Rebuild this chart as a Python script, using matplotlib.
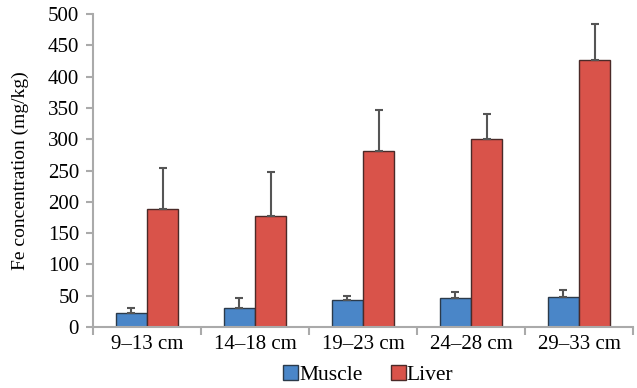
import matplotlib
matplotlib.use("Agg")
import matplotlib.pyplot as plt
import numpy as np

categories = ["9–13 cm", "14–18 cm", "19–23 cm", "24–28 cm", "29–33 cm"]
muscle = [23, 31, 44, 46, 48]
muscle_err = [7, 15, 6, 10, 11]
liver = [188, 178, 281, 301, 426]
liver_err = [66, 70, 66, 39, 58]
yticks = [0, 50, 100, 150, 200, 250, 300, 350, 400, 450, 500]

plt.rcParams['font.family'] = ['Liberation Serif', 'DejaVu Serif']

fig = plt.figure(figsize=(6.37, 3.88), dpi=100)
ax = fig.add_axes([0.146, 0.157, 0.848, 0.807])

x = np.arange(len(categories))
w = 0.29
ekw = dict(ecolor='#555555', elinewidth=1.5, capsize=3, capthick=1.5)
ax.bar(x - w/2, muscle, w, color='#4a86c8', edgecolor='#2b3a4a', linewidth=1.0,
       yerr=[np.zeros(len(muscle)), muscle_err], error_kw=ekw, label='Muscle')
ax.bar(x + w/2, liver, w, color='#d9534a', edgecolor='#4a2a28', linewidth=1.0,
       yerr=[np.zeros(len(liver)), liver_err], error_kw=ekw, label='Liver')

ax.set_xlim(-0.5, len(categories) - 0.5)
ax.set_ylim(0, 500)
ax.set_yticks(yticks)
ax.set_xticks(x)
ax.set_xticklabels(categories)
ax.set_xticks(np.arange(len(categories) + 1) - 0.5, minor=True)
ax.tick_params(axis='x', which='major', length=0, labelsize=15, pad=6)
ax.tick_params(axis='x', which='minor', length=6, color='#aaaaaa', width=1.5, direction='out')
ax.tick_params(axis='y', length=5, color='#aaaaaa', width=1.5, labelsize=15, pad=5)

for s in ['top', 'right']:
    ax.spines[s].set_visible(False)
for s in ['left', 'bottom']:
    ax.spines[s].set_color('#aaaaaa')
    ax.spines[s].set_linewidth(1.5)

ax.set_ylabel('Fe concentration (mg/kg)', fontsize=14)
ax.yaxis.set_label_coords(-0.118, 0.5)

fig.legend(loc='lower center', bbox_to_anchor=(0.578, -0.042), ncol=2, frameon=False,
           fontsize=15.5, handlelength=0.7, handleheight=0.7, handletextpad=0.05,
           columnspacing=1.3)

fig.savefig('out.png', dpi=100)
